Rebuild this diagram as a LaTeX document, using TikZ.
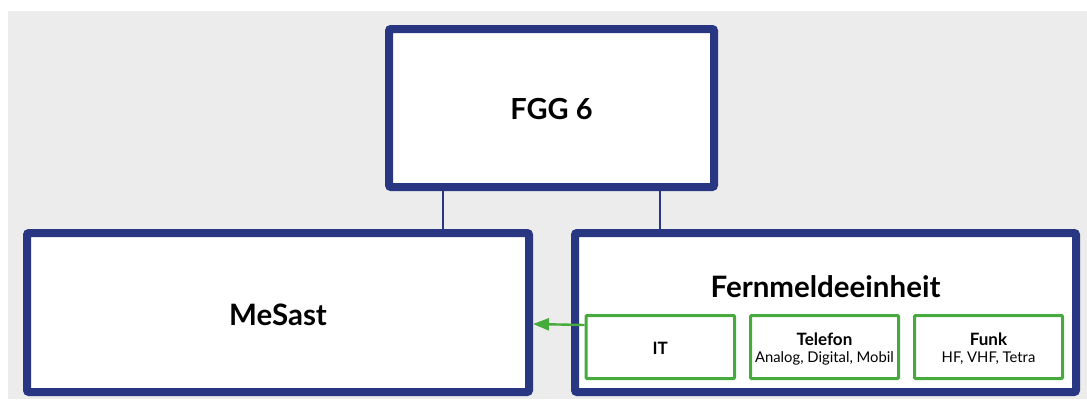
\documentclass[tikz,border=0pt]{standalone}
\usepackage{fontspec}
\setmainfont{Lato}
\usetikzlibrary{arrows.meta}
\definecolor{navy}{RGB}{41,54,130}
\definecolor{leaf}{RGB}{70,170,60}
\definecolor{panel}{RGB}{236,236,236}
\tikzset{
  unitbox/.style={draw=navy, line width=8pt, fill=white, rounded corners=2pt},
  subbox/.style={draw=leaf, line width=3pt, fill=white, rounded corners=1pt},
  link/.style={draw=navy, line width=2pt},
  feed/.style={draw=leaf, line width=2.4pt, -{Triangle[length=16pt,width=12pt]}},
  bigtitle/.style={font=\fontsize{29}{34}\selectfont\bfseries},
  midtitle/.style={font=\fontsize{29.5}{34}\selectfont\bfseries},
  subtitle/.style={font=\fontsize{17}{20}\selectfont\bfseries},
  subtext/.style={font=\fontsize{14.8}{17}\selectfont}
}
\begin{document}
\begin{tikzpicture}[x=1pt,y=-1pt]
  \useasboundingbox (0,0) rectangle (1087,399);
  \fill[panel] (8,11) rectangle (1087,399);

  % main units
  \path[unitbox] (389,29) rectangle (714,187);
  \node[bigtitle] (fgg) at (551.5,109) {FGG 6};

  \path[unitbox] (27,233) rectangle (529,392);
  \coordinate (meE) at (533,324);
  \node[midtitle] (mesast) at (278,315) {MeSast};

  \path[unitbox] (575,233) rectangle (1076,392);
  \node[midtitle] (fern) at (825.5,287) {Fernmeldeeinheit};

  % connectors from the top unit
  \coordinate (fggL) at (443,191);
  \coordinate (meN) at (443,229);
  \coordinate (fggR) at (660,191);
  \coordinate (fernN) at (660,229);
  \draw[link] (fggL) -- (meN);
  \draw[link] (fggR) -- (fernN);

  % sub units
  \path[subbox] (586,315.5) rectangle (734.5,378.5);
  \node[subtitle] (it) at (660.25,348) {IT};
  \coordinate (itW) at (584.5,325);

  \path[subbox] (750.5,315.5) rectangle (898.5,378.5);
  \node[subtitle] (tel) at (824.5,339) {Telefon};
  \node[subtext] (telsub) at (824.5,358) {Analog, Digital, Mobil};

  \path[subbox] (914.5,315.5) rectangle (1062.5,378.5);
  \node[subtitle] (funk) at (988.5,339) {Funk};
  \node[subtext] (funksub) at (988.5,358) {HF, VHF, Tetra};

  % IT feeds MeSast
  \draw[feed] (itW) -- (meE);
\end{tikzpicture}
\end{document}
